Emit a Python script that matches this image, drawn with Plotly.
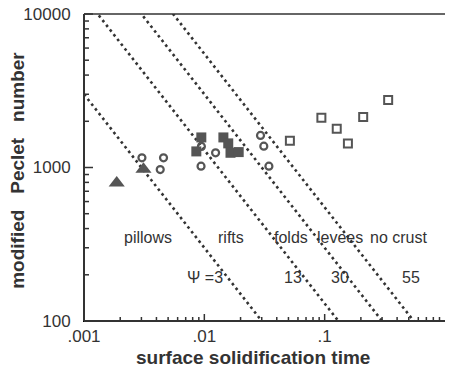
import plotly.graph_objects as go
import numpy as np

# Data
tri_t = [0.00187, 0.00312]
tri_pe = [794, 975]

circ_t = [0.00303, 0.00458, 0.0043, 0.00939, 0.00945, 0.0124, 0.0293, 0.0312, 0.0344]
circ_pe = [1156, 1156, 970, 1020, 1372, 1247, 1618, 1376, 1020]

fsq_t = [0.00944, 0.00858, 0.0144, 0.0158, 0.0165, 0.0193]
fsq_pe = [1570, 1273, 1570, 1436, 1247, 1260]

osq_t = [0.0514, 0.0939, 0.126, 0.156, 0.209, 0.337]
osq_pe = [1496, 2113, 1790, 1436, 2134, 2754]

psi_values = [3, 13, 30, 55]
psi_labels = ["\u03a8 =3", "13", "30", "55"]
regime_labels = ["pillows", "rifts", "folds", "levees", "no crust"]

x_label_alias = {"0.001": ".001", "0.01": ".01", "0.1": ".1"}
y_label_alias = {"10,000": "10000", "10k": "10000", "1,000": "1000"}

ink = "#333333"
mk = "#555555"

X_LOG_RANGE = [-3, 0]
Y_LOG_RANGE = [2, 4]

fig = go.Figure()

t_line = np.array([1e-3, 1.0])
for psi in psi_values:
    fig.add_trace(go.Scatter(x=t_line, y=psi / t_line, mode="lines",
                             line=dict(color=ink, width=2.6, dash="2.6px,3.4px"),
                             hoverinfo="skip", showlegend=False))

fig.add_trace(go.Scatter(x=tri_t, y=tri_pe, mode="markers",
                         marker=dict(symbol="triangle-up", size=14, color=mk, line=dict(width=0)),
                         showlegend=False))
fig.add_trace(go.Scatter(x=circ_t, y=circ_pe, mode="markers",
                         marker=dict(symbol="circle-open", size=7, color=mk, line=dict(width=2.2, color=mk)),
                         showlegend=False))
fig.add_trace(go.Scatter(x=fsq_t, y=fsq_pe, mode="markers",
                         marker=dict(symbol="square", size=10, color=mk, line=dict(width=0)),
                         showlegend=False))
fig.add_trace(go.Scatter(x=osq_t, y=osq_pe, mode="markers",
                         marker=dict(symbol="square-open", size=8, color=mk, line=dict(width=2, color=mk)),
                         showlegend=False))

font = "Liberation Sans, Arial, Helvetica, sans-serif"
fs = 17
fs_in = 16

# regime labels
reg_x = [0.00338, 0.0165, 0.0525, 0.134, 0.414]
for lab, xv in zip(regime_labels, reg_x):
    fig.add_annotation(x=np.log10(xv), y=np.log10(349), text=lab, showarrow=False,
                       xanchor="center", font=dict(family=font, size=fs_in, color=ink))
psi_x = [0.0101, 0.0545, 0.133, 0.521]
for lab, xv in zip(psi_labels, psi_x):
    fig.add_annotation(x=np.log10(xv), y=np.log10(191), text=lab, showarrow=False,
                       xanchor="center", font=dict(family=font, size=fs_in, color=ink))

# axis titles
fig.add_annotation(xref="paper", yref="paper", x=0.467, y=-0.12, yanchor="middle", xanchor="center",
                   text="<b>surface solidification time</b>", showarrow=False,
                   font=dict(family=font, size=19, color=ink))
fig.add_annotation(xref="paper", yref="paper", x=-0.185, y=0.49, textangle=-90,
                   xanchor="center", yanchor="middle",
                   text="<b>modified&nbsp;&nbsp;&nbsp;Peclet&nbsp;&nbsp;&nbsp;number</b>", showarrow=False,
                   font=dict(family=font, size=19, color=ink))

fig.update_xaxes(type="log", range=X_LOG_RANGE, dtick=1, labelalias=x_label_alias,
                 ticks="", showline=True, linecolor="black",
                 showgrid=False, zeroline=False,
                 tickfont=dict(family=font, size=fs, color=ink))
fig.update_yaxes(type="log", range=Y_LOG_RANGE, dtick=1, exponentformat="none", separatethousands=False,
                 labelalias=y_label_alias, ticks="", showline=True, linecolor="black",
                 ticklabelstandoff=9, showgrid=False, zeroline=False,
                 tickfont=dict(family=font, size=fs, color=ink))

# inward tick marks, placed from the axis log scale (paper fraction) with pixel lengths
def frac(v, rng):
    return (np.log10(v) - rng[0]) / (rng[1] - rng[0])

x_tick_vals = [m * 10.0 ** e for e in range(X_LOG_RANGE[0], X_LOG_RANGE[1]) for m in range(1, 10)]
y_tick_vals = [m * 10.0 ** e for e in range(Y_LOG_RANGE[0], Y_LOG_RANGE[1]) for m in range(1, 10)] + [10.0 ** Y_LOG_RANGE[1]]

for v in x_tick_vals:
    f = frac(v, X_LOG_RANGE)
    major = abs(np.log10(v) - round(np.log10(v))) < 1e-9
    fig.add_shape(type="line", xref="paper", yref="paper", ysizemode="pixel", yanchor=0,
                  x0=f, x1=f, y0=0, y1=7 if major else 4,
                  line=dict(color=ink, width=1.5))
for v in y_tick_vals:
    f = frac(v, Y_LOG_RANGE)
    major = abs(np.log10(v) - round(np.log10(v))) < 1e-9
    fig.add_shape(type="line", xref="paper", yref="paper", xsizemode="pixel", xanchor=0,
                  y0=f, y1=f, x0=0, x1=9 if major else 5,
                  line=dict(color=ink, width=1.5))

# frame lines (thicker left/bottom axis lines and the top border)
fig.add_shape(type="line", xref="paper", yref="paper", x0=0, x1=1, y0=1, y1=1,
              line=dict(color=ink, width=1.5))
fig.add_shape(type="line", xref="paper", yref="paper", x0=0, x1=0, y0=0, y1=1,
              line=dict(color=ink, width=2))
fig.add_shape(type="line", xref="paper", yref="paper", x0=0, x1=1, y0=0, y1=0,
              line=dict(color=ink, width=2))

fig.update_layout(width=449, height=369, margin=dict(l=84, r=4, t=14, b=48),
                  plot_bgcolor="white", paper_bgcolor="white", showlegend=False)

fig.write_html("out.html")
